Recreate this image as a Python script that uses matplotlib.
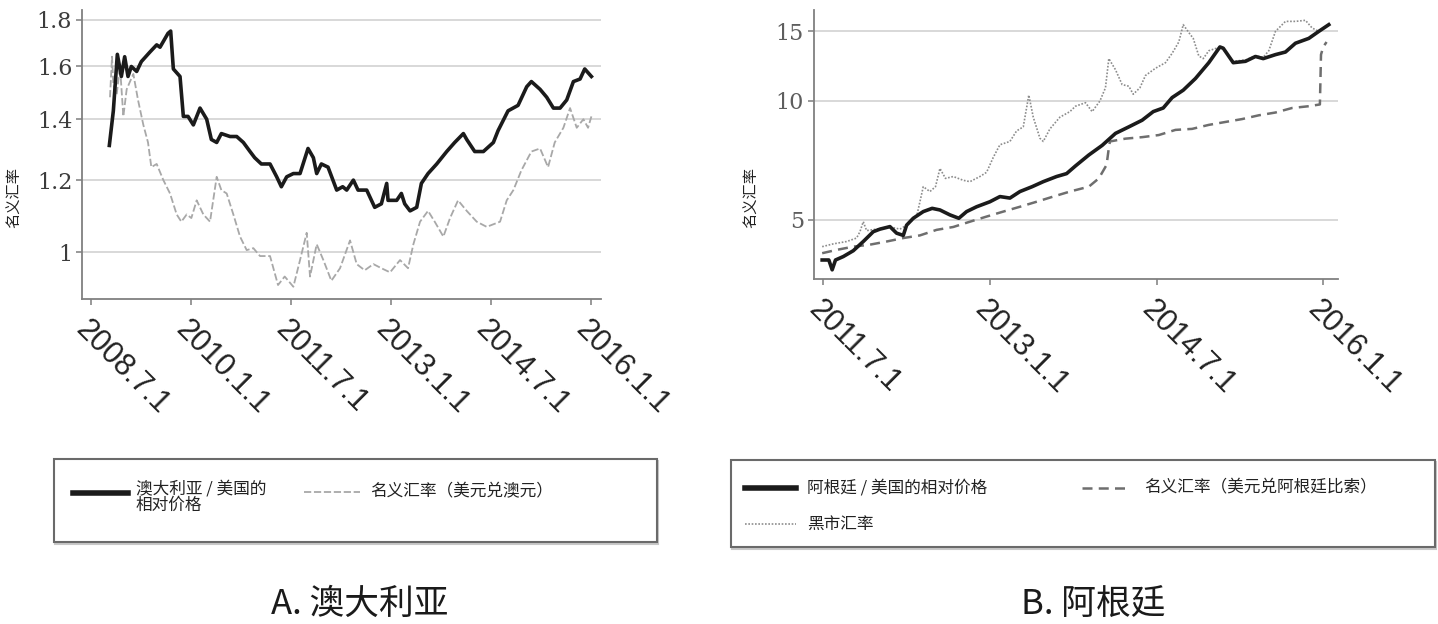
import matplotlib

matplotlib.use("Agg")
import matplotlib.pyplot as plt
from matplotlib.lines import Line2D
from matplotlib.patches import Rectangle
from matplotlib.ticker import FixedLocator, NullLocator, FixedFormatter

CJK = ["Noto Sans CJK SC", "DejaVu Sans"]
plt.rcParams["font.family"] = CJK

# ---- panel A: Australia (decimal years, AUD per USD) ----
au_rel_t = [2008.78, 2008.84, 2008.90, 2008.96, 2009.01, 2009.06, 2009.11, 2009.19,
            2009.26, 2009.39, 2009.49, 2009.54, 2009.66, 2009.70, 2009.74, 2009.84,
            2009.89, 2009.96, 2010.04, 2010.14, 2010.24, 2010.31, 2010.39, 2010.46,
            2010.59, 2010.69, 2010.79, 2010.89, 2010.96, 2011.06, 2011.19, 2011.29,
            2011.36, 2011.44, 2011.54, 2011.64, 2011.76, 2011.84, 2011.89, 2011.96,
            2012.06, 2012.19, 2012.28, 2012.34, 2012.44, 2012.51, 2012.64, 2012.76,
            2012.86, 2012.94, 2012.96, 2013.09, 2013.16, 2013.21, 2013.29, 2013.39,
            2013.46, 2013.56, 2013.69, 2013.84, 2013.96, 2014.09, 2014.14, 2014.26,
            2014.39, 2014.54, 2014.61, 2014.76, 2014.91, 2015.04, 2015.11, 2015.24,
            2015.34, 2015.44, 2015.54, 2015.64, 2015.74, 2015.84, 2015.91, 2016.01]
au_rel_v = [1.31, 1.43, 1.65, 1.56, 1.64, 1.56, 1.60, 1.58,
            1.62, 1.66, 1.69, 1.68, 1.74, 1.75, 1.59, 1.56,
            1.41, 1.41, 1.38, 1.44, 1.40, 1.33, 1.32, 1.35,
            1.34, 1.34, 1.32, 1.29, 1.27, 1.25, 1.25, 1.21,
            1.18, 1.21, 1.22, 1.22, 1.30, 1.27, 1.22, 1.25,
            1.24, 1.17, 1.18, 1.17, 1.20, 1.17, 1.17, 1.12,
            1.13, 1.19, 1.14, 1.14, 1.16, 1.13, 1.11, 1.12,
            1.19, 1.22, 1.25, 1.29, 1.32, 1.35, 1.33, 1.29,
            1.29, 1.32, 1.36, 1.43, 1.45, 1.52, 1.54, 1.51,
            1.48, 1.44, 1.44, 1.47, 1.54, 1.55, 1.59, 1.56]

au_nom_t = [2008.79, 2008.82, 2008.84, 2008.89, 2008.94, 2008.99, 2009.04, 2009.09,
            2009.14, 2009.21, 2009.29, 2009.36, 2009.41, 2009.49, 2009.59, 2009.69,
            2009.79, 2009.86, 2009.94, 2010.01, 2010.09, 2010.19, 2010.29, 2010.39,
            2010.46, 2010.54, 2010.64, 2010.74, 2010.84, 2010.94, 2011.04, 2011.19,
            2011.31, 2011.41, 2011.54, 2011.64, 2011.74, 2011.79, 2011.89, 2011.99,
            2012.11, 2012.24, 2012.39, 2012.49, 2012.61, 2012.74, 2012.86, 2012.99,
            2013.14, 2013.26, 2013.34, 2013.44, 2013.56, 2013.66, 2013.79, 2013.89,
            2014.01, 2014.14, 2014.29, 2014.44, 2014.64, 2014.74, 2014.84, 2014.96,
            2015.11, 2015.24, 2015.36, 2015.46, 2015.59, 2015.69, 2015.79, 2015.89,
            2015.96, 2016.01]
au_nom_v = [1.48, 1.64, 1.53, 1.49, 1.60, 1.41, 1.51, 1.54,
            1.57, 1.47, 1.38, 1.32, 1.24, 1.25, 1.20, 1.16,
            1.10, 1.08, 1.10, 1.09, 1.14, 1.10, 1.08, 1.21,
            1.17, 1.16, 1.10, 1.04, 1.005, 1.01, 0.99, 0.99,
            0.92, 0.94, 0.916, 0.98, 1.05, 0.94, 1.02, 0.98,
            0.93, 0.96, 1.03, 0.97, 0.955, 0.97, 0.96, 0.95,
            0.98, 0.96, 1.02, 1.08, 1.11, 1.08, 1.04, 1.09,
            1.14, 1.11, 1.08, 1.066, 1.08, 1.14, 1.17, 1.23,
            1.29, 1.30, 1.24, 1.32, 1.37, 1.44, 1.37, 1.40,
            1.37, 1.41]

# ---- panel B: Argentina (decimal years, ARS per USD) ----
ar_rel_t = [2011.49, 2011.55, 2011.58, 2011.61, 2011.68, 2011.77, 2011.86, 2011.95,
            2012.01, 2012.10, 2012.16, 2012.22, 2012.25, 2012.31, 2012.40, 2012.48,
            2012.55, 2012.64, 2012.72, 2012.79, 2012.88, 2013.00, 2013.09, 2013.18,
            2013.27, 2013.38, 2013.48, 2013.60, 2013.69, 2013.77, 2013.89, 2014.01,
            2014.13, 2014.25, 2014.37, 2014.47, 2014.56, 2014.64, 2014.74, 2014.85,
            2014.97, 2015.07, 2015.10, 2015.19, 2015.30, 2015.39, 2015.46, 2015.57,
            2015.66, 2015.75, 2015.87, 2015.96, 2016.05]
ar_rel_v = [3.96, 3.96, 3.74, 3.96, 4.04, 4.18, 4.41, 4.67,
            4.74, 4.81, 4.63, 4.57, 4.85, 5.05, 5.25, 5.35,
            5.30, 5.15, 5.05, 5.25, 5.40, 5.56, 5.73, 5.68,
            5.90, 6.07, 6.25, 6.44, 6.55, 6.85, 7.30, 7.72,
            8.28, 8.60, 8.94, 9.40, 9.60, 10.2, 10.65, 11.4,
            12.5, 13.7, 13.6, 12.5, 12.6, 12.96, 12.8, 13.1,
            13.3, 14.0, 14.4, 15.0, 15.6]

ar_nom_t = [2011.49, 2011.62, 2011.77, 2011.92, 2012.07, 2012.22, 2012.37, 2012.52,
            2012.67, 2012.82, 2012.97, 2013.12, 2013.27, 2013.42, 2013.57, 2013.72,
            2013.89, 2013.98, 2014.05, 2014.07, 2014.08, 2014.22, 2014.37, 2014.52,
            2014.67, 2014.82, 2014.97, 2015.12, 2015.27, 2015.42, 2015.57, 2015.72,
            2015.87, 2015.97, 2015.98, 2016.00, 2016.03]
ar_nom_v = [4.12, 4.20, 4.28, 4.33, 4.41, 4.50, 4.57, 4.72,
            4.80, 4.95, 5.10, 5.25, 5.40, 5.56, 5.73, 5.90,
            6.07, 6.37, 6.89, 7.60, 7.90, 8.03, 8.10, 8.20,
            8.45, 8.50, 8.70, 8.85, 9.00, 9.20, 9.35, 9.60,
            9.70, 9.80, 13.1, 13.7, 14.1]

ar_blue_t = [2011.49, 2011.59, 2011.71, 2011.80, 2011.83, 2011.86, 2011.89, 2011.98,
             2012.10, 2012.19, 2012.25, 2012.34, 2012.37, 2012.40, 2012.46, 2012.51,
             2012.55, 2012.60, 2012.67, 2012.76, 2012.82, 2012.91, 2012.97, 2013.03,
             2013.09, 2013.18, 2013.24, 2013.30, 2013.35, 2013.39, 2013.45, 2013.48,
             2013.54, 2013.63, 2013.72, 2013.77, 2013.86, 2013.92, 2013.99, 2014.04,
             2014.07, 2014.13, 2014.19, 2014.25, 2014.29, 2014.35, 2014.40, 2014.49,
             2014.58, 2014.64, 2014.70, 2014.74, 2014.79, 2014.83, 2014.88, 2014.92,
             2014.97, 2015.04, 2015.09, 2015.19, 2015.30, 2015.39, 2015.46, 2015.51,
             2015.57, 2015.66, 2015.75, 2015.84, 2015.90, 2015.96, 2016.02]
ar_blue_v = [4.28, 4.35, 4.41, 4.50, 4.67, 4.95, 4.70, 4.74,
             4.80, 4.74, 4.85, 5.10, 5.56, 6.07, 5.90, 6.07,
             6.75, 6.37, 6.44, 6.30, 6.25, 6.44, 6.60, 7.20,
             7.75, 7.90, 8.40, 8.60, 10.35, 9.10, 8.05, 7.90,
             8.50, 9.10, 9.40, 9.70, 9.90, 9.40, 10.0, 10.8,
             12.8, 12.0, 11.0, 10.9, 10.4, 10.8, 11.6, 12.1,
             12.5, 13.2, 14.1, 15.6, 14.9, 14.4, 13.0, 12.8,
             13.4, 13.6, 13.6, 12.6, 12.7, 13.0, 12.9, 13.4,
             15.0, 15.9, 15.9, 16.0, 15.3, 15.0, 15.4]

au_ticks = [2008.5, 2010.0, 2011.5, 2013.0, 2014.5, 2016.0]
au_ticklabels = ["2008.7.1", "2010.1.1", "2011.7.1", "2013.1.1", "2014.7.1", "2016.1.1"]
au_yticks = [1.0, 1.2, 1.4, 1.6, 1.8]
au_yticklabels = ["1", "1.2", "1.4", "1.6", "1.8"]

ar_ticks = [2011.5, 2013.0, 2014.5, 2016.0]
ar_ticklabels = ["2011.7.1", "2013.1.1", "2014.7.1", "2016.1.1"]
ar_yticks = [5, 10, 15]
ar_yticklabels = ["5", "10", "15"]

W, H = 1438, 624
fig = plt.figure(figsize=(W / 100, H / 100), dpi=100)


def fx(x):
    return x / W


def fy(y):
    return 1 - y / H


def style_axes(ax, xticks, xlabels, yticks, ylabels, ycolor):
    ax.set_yscale("log")
    ax.yaxis.set_major_locator(FixedLocator(yticks))
    ax.yaxis.set_major_formatter(FixedFormatter(ylabels))
    ax.yaxis.set_minor_locator(NullLocator())
    ax.set_xticks(xticks)
    ax.set_xticklabels(xlabels, rotation=-45, ha="left", va="top",
                       rotation_mode="anchor", family="Liberation Sans",
                       fontsize=22, color="#222222")
    for lab in ax.get_yticklabels():
        lab.set_family("DejaVu Serif")
        lab.set_fontsize(16)
        lab.set_color(ycolor)
    ax.tick_params(axis="x", length=4, width=1.2, color="#888888", pad=7)
    ax.tick_params(axis="y", length=4, width=1.2, color="#888888", pad=3)
    ax.grid(axis="y", color="#d2d2d2", lw=1.2)
    ax.set_axisbelow(True)
    for side in ("top", "right"):
        ax.spines[side].set_visible(False)
    for side in ("left", "bottom"):
        ax.spines[side].set_color("#808080")
        ax.spines[side].set_linewidth(1.3)


black_kw = dict(color="#1b1b1b", lw=2.6, solid_joinstyle="round")
au_nom_kw = dict(color="#a8a8a8", lw=1.3, linestyle=(0, (4, 1.5)))
ar_nom_kw = dict(color="#6e6e6e", lw=1.8, linestyle=(0, (4, 2.5)))
ar_blue_kw = dict(color="#8c8c8c", lw=1.2, linestyle=(0, (1, 1)))

# panel A
ax1 = fig.add_axes([fx(82), fy(299), fx(601 - 82), (299 - 10) / H])
ax1.plot(au_nom_t, au_nom_v, **au_nom_kw)
ax1.plot(au_rel_t, au_rel_v, **black_kw)
style_axes(ax1, au_ticks, au_ticklabels, au_yticks, au_yticklabels, "#3c3c3c")
ax1.set_xlim(2008.37, 2016.154)
ax1.set_ylim(0.888, 1.846)

# panel B
ax2 = fig.add_axes([fx(813.5), fy(279), fx(1338 - 813.5), (279 - 10) / H])
ax2.plot(ar_blue_t, ar_blue_v, **ar_blue_kw)
ax2.plot(ar_nom_t, ar_nom_v, **ar_nom_kw)
ax2.plot(ar_rel_t, ar_rel_v, **black_kw)
style_axes(ax2, ar_ticks, ar_ticklabels, ar_yticks, ar_yticklabels, "#5e5e5e")
ax2.set_xlim(2011.412, 2016.133)
ax2.set_ylim(3.545, 16.99)

# y labels
fig.text(fx(15), fy(197), "名义汇率", rotation=90, ha="center", va="center",
         fontsize=11, color="#222222")
fig.text(fx(752), fy(197), "名义汇率", rotation=90, ha="center", va="center",
         fontsize=11, color="#222222")


def legend_box(x0, y0, x1, y1):
    # soft shadow under the frame, then the frame itself
    fig.patches.append(Rectangle((fx(x0 + 1), fy(y1 + 2)), fx(x1 - x0), (y1 - y0) / H,
                                 transform=fig.transFigure, fill=False,
                                 edgecolor="#c8c8c8", lw=1.5))
    fig.patches.append(Rectangle((fx(x0), fy(y1)), fx(x1 - x0), (y1 - y0) / H,
                                 transform=fig.transFigure, facecolor="white",
                                 edgecolor="#6a6a6a", lw=1.5))


def legend_entry(x0, x1, y, kw, text, tx, ty=None):
    style = dict(kw)
    if style.get("color") == "#1b1b1b":
        style["lw"] = 4.0
    fig.lines.append(Line2D([fx(x0), fx(x1)], [fy(y), fy(y)],
                            transform=fig.transFigure, **style))
    fig.text(fx(tx), fy(ty if ty is not None else y), text, ha="left",
             va="center", fontsize=12, color="#222222", linespacing=0.95)


legend_box(54, 459, 657, 542)
legend_entry(73, 128, 492.5, black_kw, "澳大利亚 / 美国的\n相对价格", 136, 497)
legend_entry(304, 360, 492, au_nom_kw, "名义汇率（美元兑澳元）", 370)

legend_box(731, 460, 1435, 547)
legend_entry(745, 796, 488, black_kw, "阿根廷 / 美国的相对价格", 807)
legend_entry(1082, 1128, 488, ar_nom_kw, "名义汇率（美元兑阿根廷比索）", 1144)
legend_entry(745, 796, 524, ar_blue_kw, "黑市汇率", 807)

fig.text(fx(360), fy(604), "A. 澳大利亚", ha="center", va="center",
         fontsize=25, color="#1a1a1a")
fig.text(fx(1093), fy(604), "B. 阿根廷", ha="center", va="center",
         fontsize=25, color="#1a1a1a")

fig.savefig("out.png", dpi=100)
